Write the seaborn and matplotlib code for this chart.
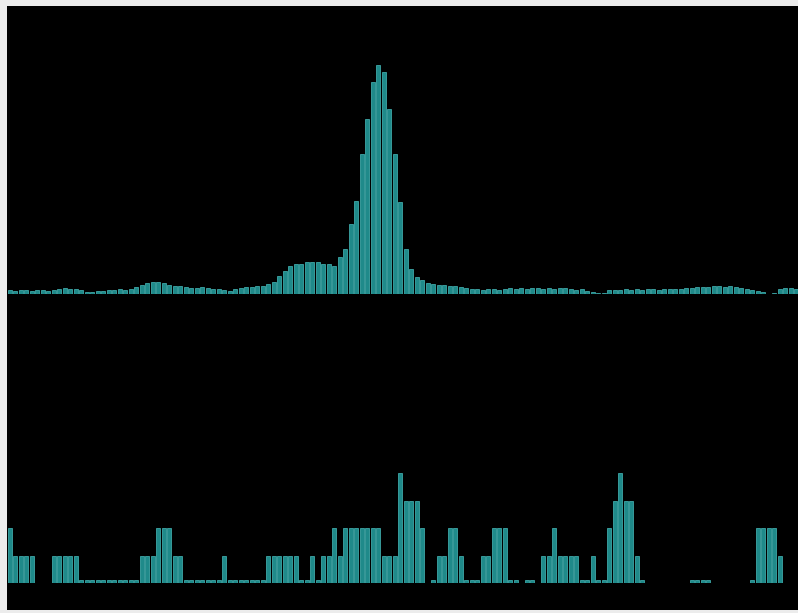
import numpy as np
import pandas as pd
import matplotlib
matplotlib.use("Agg")
import matplotlib.pyplot as plt
import seaborn as sns

# ---- data ----
top_values = [
    4, 3, 4, 4, 3, 4, 4, 3, 4, 5,
    6, 5, 5, 4, 2, 2, 3, 3, 4, 4,
    5, 4, 5, 7, 9, 11, 12, 12, 11, 9,
    8, 8, 7, 6, 6, 7, 6, 5, 5, 4,
    3, 5, 6, 7, 7, 8, 8, 10, 12, 18,
    23, 28, 30, 30, 32, 32, 32, 30, 30, 28,
    37, 45, 70, 93, 140, 175, 212, 229, 222, 185,
    140, 92, 45, 25, 17, 14, 11, 10, 9, 9,
    8, 8, 7, 6, 5, 5, 4, 5, 5, 4,
    5, 6, 5, 6, 5, 6, 6, 5, 6, 5,
    6, 6, 5, 4, 5, 3, 2, 1, 1, 4,
    4, 4, 5, 4, 5, 4, 5, 5, 4, 5,
    5, 5, 5, 6, 6, 7, 7, 7, 8, 8,
    7, 8, 7, 6, 5, 4, 3, 2, 0, 1,
    5, 6, 6, 5,
]

S = 0.1  # small stub level
bottom_values = [
    2, 1, 1, 1, 1, 0, 0, 0, 1, 1,
    1, 1, 1, S, S, S, S, S, S, S,
    S, S, S, S, 1, 1, 1, 2, 2, 2,
    1, 1, S, S, S, S, S, S, S, 1,
    S, S, S, S, S, S, S, 1, 1, 1,
    1, 1, 1, S, S, 1, S, 1, 1, 2,
    1, 2, 2, 2, 2, 2, 2, 2, 1, 1,
    1, 4, 3, 3, 3, 2, 0, S, 1, 1,
    2, 2, 1, S, S, S, 1, 1, 2, 2,
    2, S, S, 0, S, S, 0, 1, 1, 2,
    1, 1, 1, 1, S, S, 1, S, S, 2,
    3, 4, 3, 3, 1, S, 0, 0, 0, 0,
    0, 0, 0, 0, S, S, S, S, 0, 0,
    0, 0, 0, 0, 0, S, 2, 2, 2, 2,
    1, 0, 0, 0,
]

idx = list(range(len(top_values)))
df_top = pd.DataFrame({"i": idx, "v": top_values})
df_bot = pd.DataFrame({"i": idx, "v": bottom_values})

W, H = 798, 613
fig = plt.figure(figsize=(W / 100, H / 100), dpi=100)
fig.patch.set_facecolor("#ececec")

def fx(px):
    return px / W

def fy(py):
    return (H - py) / H

# black panel
bg = fig.add_axes([fx(7), fy(610), fx(791), (610 - 6) / H])
bg.set_facecolor("black")
bg.set_xticks([]); bg.set_yticks([])
for s in bg.spines.values():
    s.set_visible(False)

pitch = 5.5
xmin = -0.5
xmax = xmin + 791 / pitch

bar_kw = dict(color="#1f8a8a", saturation=1, width=0.8,
              edgecolor="#48bcbc", linewidth=0.5)

# top panel: baseline at y=294 px, top at y=6 px
ax1 = fig.add_axes([fx(7), fy(294), fx(791), (294 - 6) / H])
sns.barplot(data=df_top, x="i", y="v", ax=ax1, **bar_kw)
ax1.set_ylim(0, 288)

# bottom panel: baseline at y=583 px, top at y=300 px
ax2 = fig.add_axes([fx(7), fy(583), fx(791), (583 - 300) / H])
sns.barplot(data=df_bot, x="i", y="v", ax=ax2, **bar_kw)
ax2.set_ylim(0, 283 / 27.5)

for ax in (ax1, ax2):
    ax.set_xlim(xmin, xmax)
    ax.patch.set_alpha(0)
    ax.set_xticks([]); ax.set_yticks([])
    ax.set_xlabel(""); ax.set_ylabel("")
    for s in ax.spines.values():
        s.set_visible(False)

fig.savefig("out.png", dpi=100, facecolor=fig.get_facecolor())
